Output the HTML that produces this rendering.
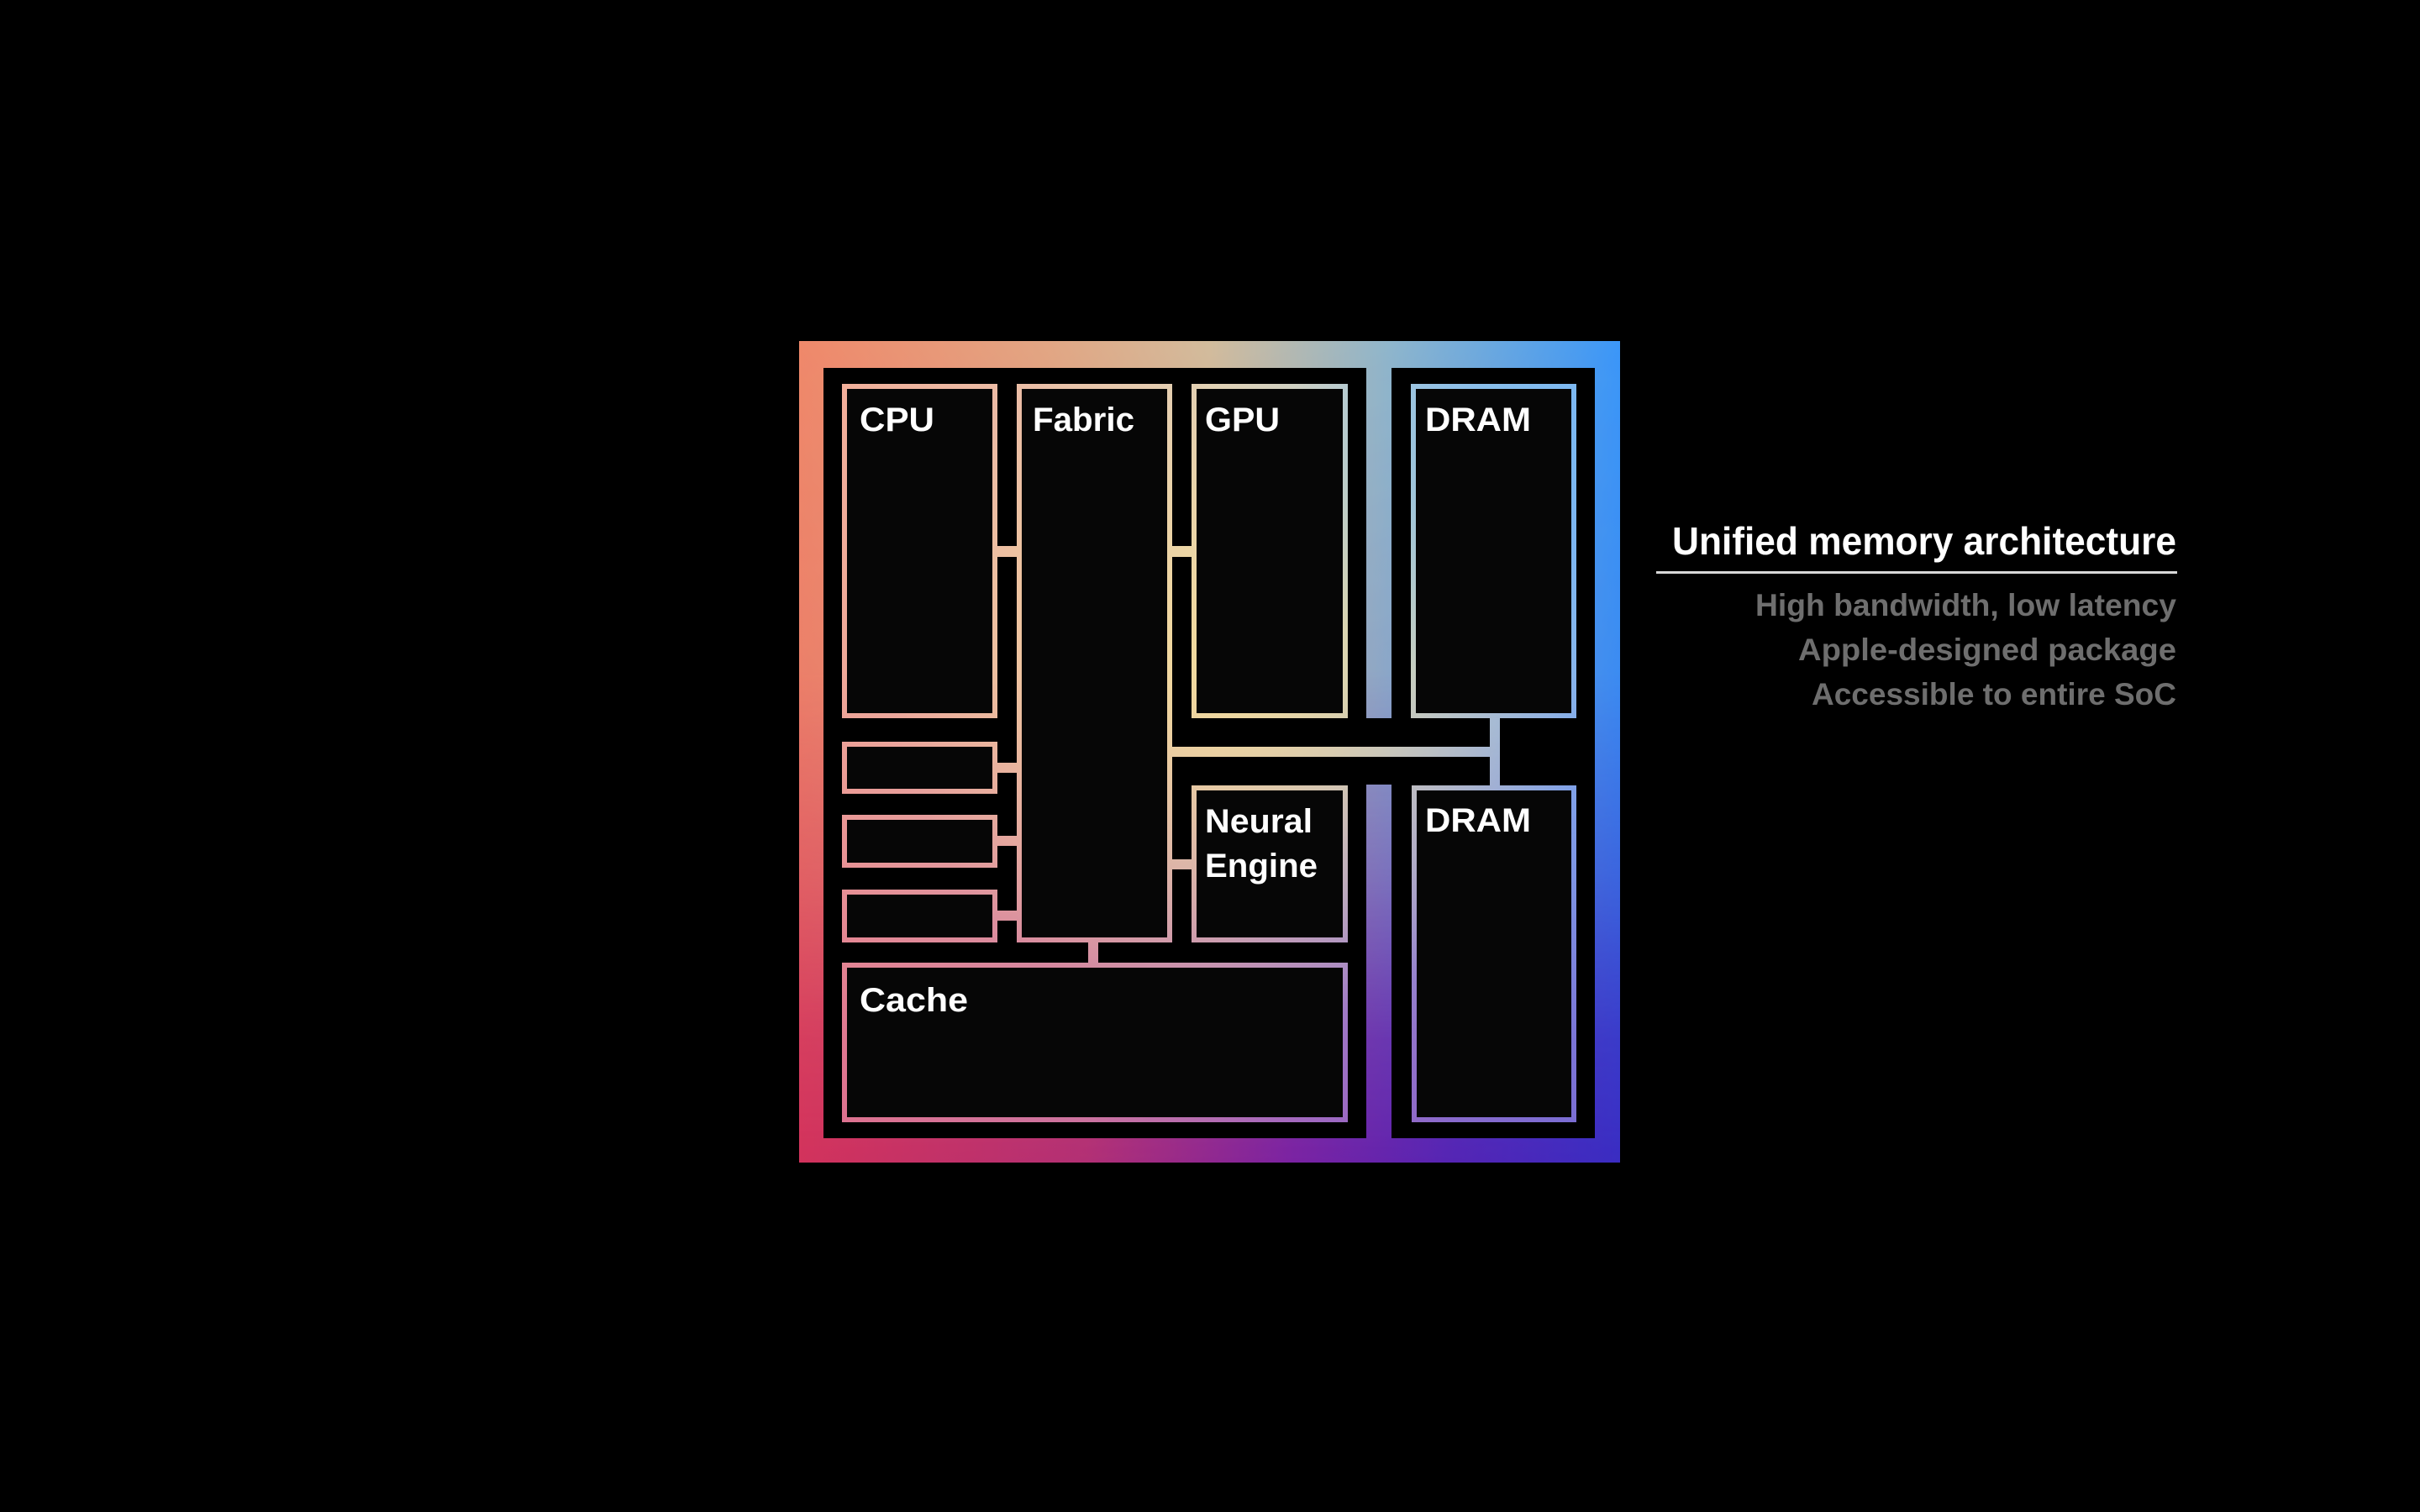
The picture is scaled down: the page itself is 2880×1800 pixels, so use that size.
<!DOCTYPE html>
<html><head><meta charset="utf-8"><style>
html,body{margin:0;padding:0;background:#000;}
svg{display:block;}
text{font-family:"Liberation Sans",sans-serif;font-weight:bold;}
</style></head><body>
<svg width="2880" height="1800" viewBox="0 0 2880 1800" xmlns="http://www.w3.org/2000/svg">
<defs>
  <linearGradient id="top" x1="951" y1="0" x2="1928" y2="0" gradientUnits="userSpaceOnUse">
    <stop offset="0" stop-color="#ef896b"/>
    <stop offset="0.3" stop-color="#e2a684"/>
    <stop offset="0.5" stop-color="#d2bc9c"/>
    <stop offset="0.72" stop-color="#8fb6cc"/>
    <stop offset="1" stop-color="#3c97f8"/>
  </linearGradient>
  <linearGradient id="bot" x1="951" y1="0" x2="1928" y2="0" gradientUnits="userSpaceOnUse">
    <stop offset="0" stop-color="#d2325c"/>
    <stop offset="0.35" stop-color="#b22f74"/>
    <stop offset="0.6" stop-color="#7a22a2"/>
    <stop offset="0.8" stop-color="#5424b4"/>
    <stop offset="1" stop-color="#3a2cc2"/>
  </linearGradient>
  <linearGradient id="vfade" x1="0" y1="406" x2="0" y2="1384" gradientUnits="userSpaceOnUse">
    <stop offset="0" stop-color="#000"/>
    <stop offset="0.4" stop-color="#1a1a1a"/>
    <stop offset="0.65" stop-color="#777"/>
    <stop offset="0.85" stop-color="#ddd"/>
    <stop offset="1" stop-color="#fff"/>
  </linearGradient>
  <mask id="botmask" maskUnits="userSpaceOnUse" x="0" y="0" width="2880" height="1800">
    <rect x="951" y="406" width="977" height="978" fill="url(#vfade)"/>
  </mask>
  <radialGradient id="glow" cx="1480" cy="800" r="420" gradientUnits="userSpaceOnUse">
    <stop offset="0" stop-color="#ffe890" stop-opacity="0.7"/>
    <stop offset="1" stop-color="#ffe890" stop-opacity="0"/>
  </radialGradient>
  <radialGradient id="blueglow" cx="1780" cy="560" r="260" gradientUnits="userSpaceOnUse">
    <stop offset="0" stop-color="#70b8f0" stop-opacity="0.6"/>
    <stop offset="1" stop-color="#70b8f0" stop-opacity="0"/>
  </radialGradient>
  <mask id="lines" maskUnits="userSpaceOnUse" x="0" y="0" width="2880" height="1800">
    <g fill="none" stroke="#fff" stroke-width="6">
      <rect x="1005" y="460" width="179" height="392"/>
      <rect x="1213" y="460" width="179" height="659"/>
      <rect x="1421" y="460" width="180" height="392"/>
      <rect x="1682" y="460" width="191" height="392"/>
      <rect x="1005" y="886" width="179" height="56"/>
      <rect x="1005" y="973" width="179" height="57"/>
      <rect x="1005" y="1062" width="179" height="57"/>
      <rect x="1421" y="938" width="180" height="181"/>
      <rect x="1005" y="1149" width="596" height="184"/>
      <rect x="1683" y="938" width="190" height="395"/>
    </g>
    <g fill="#fff">
      <rect x="1186" y="650" width="26" height="13"/>
      <rect x="1394" y="650" width="26" height="13"/>
      <rect x="1186" y="908" width="26" height="12"/>
      <rect x="1186" y="995" width="26" height="12"/>
      <rect x="1186" y="1084" width="26" height="12"/>
      <rect x="1394" y="1023" width="26" height="12"/>
      <rect x="1295" y="1121" width="12" height="27"/>
      <rect x="1394" y="889" width="391" height="12"/>
      <rect x="1773" y="854" width="12" height="82"/>
    </g>
  </mask>
</defs>

<rect x="951" y="406" width="977" height="978" fill="url(#top)"/>
<rect x="951" y="406" width="977" height="978" fill="url(#bot)" mask="url(#botmask)"/>
<rect x="980" y="438" width="646" height="917" fill="#000"/>
<rect x="1656" y="438" width="242" height="917" fill="#000"/>
<rect x="1620" y="855" width="42" height="79" fill="#000"/>

<g fill="#060606">
  <rect x="1005" y="460" width="179" height="392"/>
  <rect x="1213" y="460" width="179" height="659"/>
  <rect x="1421" y="460" width="180" height="392"/>
  <rect x="1682" y="460" width="191" height="392"/>
  <rect x="1005" y="886" width="179" height="56"/>
  <rect x="1005" y="973" width="179" height="57"/>
  <rect x="1005" y="1062" width="179" height="57"/>
  <rect x="1421" y="938" width="180" height="181"/>
  <rect x="1005" y="1149" width="596" height="184"/>
  <rect x="1683" y="938" width="190" height="395"/>
</g>

<g mask="url(#lines)">
  <rect x="951" y="406" width="977" height="978" fill="url(#top)"/>
  <rect x="951" y="406" width="977" height="978" fill="url(#bot)" mask="url(#botmask)"/>
  <rect x="951" y="406" width="977" height="978" fill="#fff" opacity="0.3"/>
  <rect x="951" y="406" width="977" height="978" fill="url(#glow)"/>
  <rect x="951" y="406" width="977" height="978" fill="url(#blueglow)"/>
</g>

<g fill="#fff" font-size="40">
  <text x="1023" y="513" textLength="89" lengthAdjust="spacingAndGlyphs">CPU</text>
  <text x="1229" y="513" textLength="121" lengthAdjust="spacingAndGlyphs">Fabric</text>
  <text x="1434" y="513" textLength="89" lengthAdjust="spacingAndGlyphs">GPU</text>
  <text x="1696" y="513" textLength="126" lengthAdjust="spacingAndGlyphs">DRAM</text>
  <text x="1434" y="991" textLength="128" lengthAdjust="spacingAndGlyphs">Neural</text>
  <text x="1434" y="1044" textLength="134" lengthAdjust="spacingAndGlyphs">Engine</text>
  <text x="1023" y="1204" textLength="129" lengthAdjust="spacingAndGlyphs">Cache</text>
  <text x="1696" y="990" textLength="126" lengthAdjust="spacingAndGlyphs">DRAM</text>
</g>

<text x="1990" y="660" font-size="46" fill="#fff" textLength="600" lengthAdjust="spacingAndGlyphs">Unified memory architecture</text>
<rect x="1971" y="680" width="620" height="3" fill="#d8d8d8"/>
<g fill="#6e6e6e" font-size="37">
  <text x="2089" y="733" textLength="501" lengthAdjust="spacingAndGlyphs">High bandwidth, low latency</text>
  <text x="2140" y="786" textLength="450" lengthAdjust="spacingAndGlyphs">Apple-designed package</text>
  <text x="2156" y="839" textLength="434" lengthAdjust="spacingAndGlyphs">Accessible to entire SoC</text>
</g>
</svg>
</body></html>
